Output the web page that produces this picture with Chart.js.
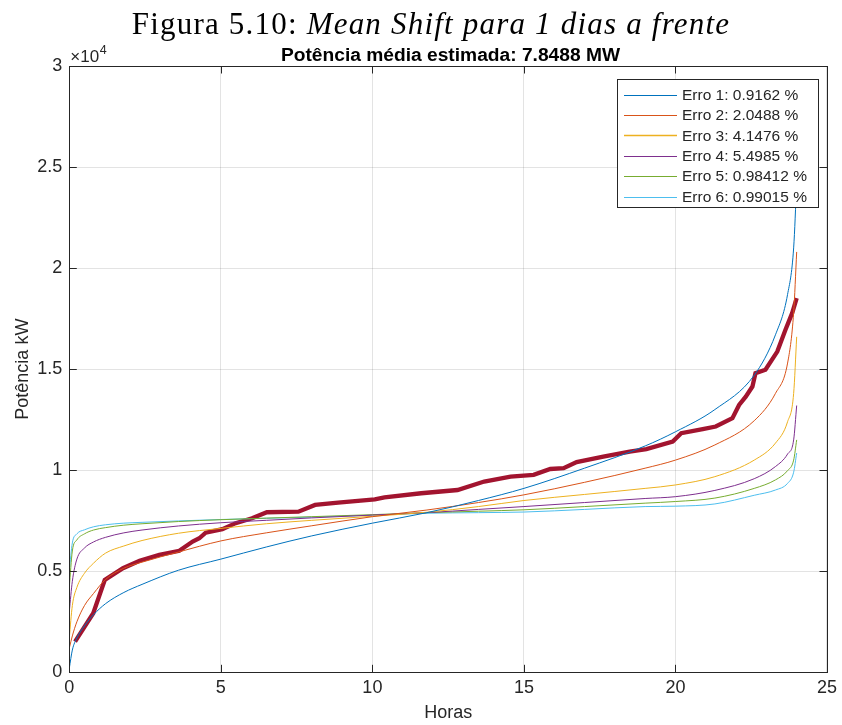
<!DOCTYPE html>
<html>
<head>
<meta charset="utf-8">
<script src="https://cdn.jsdelivr.net/npm/chart.js@4/dist/chart.umd.min.js"></script>
<style>
  html, body { margin: 0; padding: 0; background: #ffffff; }
  #wrap { position: relative; width: 842px; height: 725px; }
  #chart { position: absolute; left: 0; top: 0; }
  #caption {
    position: absolute; left: 10px; top: 6px; width: 842px;
    text-align: center; font-family: 'Liberation Serif', 'DejaVu Serif', serif;
    font-size: 31px; letter-spacing: 1.2px; color: #000; white-space: nowrap; line-height: 36px;
  }
  #axtitle {
    position: absolute; left: 69px; top: 44px; width: 763px;
    text-align: center; font-family: 'Liberation Sans', Arial, sans-serif;
    font-weight: bold; font-size: 19.2px; color: #000; line-height: 22px; white-space: nowrap;
  }
</style>
</head>
<body>
<div id="wrap">
  <canvas id="chart" width="842" height="725"></canvas>
  <div id="caption">Figura 5.10: <i>Mean Shift para 1 dias a frente</i></div>
  <div id="axtitle">Potência média estimada: 7.8488 MW</div>
</div>
<script>
// Sorted hourly power profiles (kW) for each error scenario
const hours = [0, 0.1, 0.25, 0.5, 0.8, 1.2, 1.8, 2.4, 3.6, 5, 6.5, 8, 10, 11.8, 13.5, 15, 17, 19, 20, 21.3, 22.6, 23.3, 23.7, 23.9, 24];

const erro1 = [200, 1100, 1700, 2300, 2850, 3400, 3950, 4350, 5050, 5600, 6200, 6750, 7380, 7900, 8500, 9100, 10100, 11200, 11900, 13000, 14700, 16700, 18700, 21000, 24200];
const erro2 = [1200, 1800, 2500, 3300, 3900, 4600, 5150, 5450, 5950, 6500, 6900, 7250, 7700, 8030, 8400, 8780, 9400, 10100, 10500, 11250, 12450, 13800, 15300, 17800, 20800];
const erro3 = [1700, 3300, 4200, 4900, 5400, 5900, 6250, 6520, 6880, 7120, 7350, 7520, 7720, 7920, 8200, 8500, 8800, 9100, 9270, 9680, 10500, 11340, 12400, 13800, 16600];
const erro4 = [3000, 4500, 5600, 6150, 6450, 6680, 6900, 7040, 7240, 7400, 7520, 7640, 7780, 7900, 8060, 8200, 8400, 8600, 8690, 9000, 9580, 10180, 10800, 11500, 13200];
const erro5 = [4200, 6000, 6550, 6850, 7040, 7160, 7280, 7350, 7460, 7550, 7630, 7700, 7800, 7900, 7970, 8040, 8200, 8370, 8450, 8620, 9100, 9520, 9980, 10500, 11500];
const erro6 = [5000, 6400, 6850, 7050, 7200, 7300, 7380, 7420, 7490, 7560, 7620, 7680, 7770, 7870, 7900, 7930, 8060, 8200, 8220, 8330, 8760, 9020, 9350, 9900, 10850];

// Estimated mean-shift profile
const estHours = [0.19, 0.79, 1.17, 1.77, 2.32, 2.97, 3.63, 4.07, 4.29, 4.5, 5.05, 5.49, 6.03, 6.52, 7.56, 8.11, 8.87, 10.08, 10.4, 11.61, 12.81, 13.69, 14.56, 15.32, 15.87, 16.31, 16.74, 17.62, 18.49, 19.04, 19.91, 20.19, 20.9, 21.33, 21.88, 22.1, 22.32, 22.54, 22.64, 22.97, 23.36, 23.63, 23.85, 24.0];
const estimada = [1520, 2920, 4570, 5150, 5520, 5810, 6010, 6470, 6630, 6910, 7080, 7380, 7620, 7920, 7950, 8280, 8400, 8560, 8660, 8860, 9020, 9440, 9680, 9770, 10060, 10100, 10400, 10670, 10920, 11040, 11420, 11830, 12030, 12160, 12570, 13230, 13640, 14140, 14800, 14970, 15870, 16950, 17770, 18510];

const legendLabels = ['Erro 1: 0.9162 %', 'Erro 2: 2.0488 %', 'Erro 3: 4.1476 %', 'Erro 4: 5.4985 %', 'Erro 5: 0.98412 %', 'Erro 6: 0.99015 %'];
const xTicks = [0, 5, 10, 15, 20, 25];
const yTicks = [0, 5000, 10000, 15000, 20000, 25000, 30000];

const colors = ['#0072BD', '#D95319', '#EDB120', '#7E2F8E', '#77AC30', '#4DBEEE'];
const estColor = '#A2142F';
const ink = '#262626';
const FONT = "'Liberation Sans', Arial, Helvetica, sans-serif";

const pairs = (xs, ys) => xs.map((x, i) => ({ x: x, y: ys[i] }));

const series = [erro1, erro2, erro3, erro4, erro5, erro6];
const datasets = series.map((vals, i) => ({
  label: legendLabels[i],
  data: pairs(hours, vals),
  borderColor: colors[i],
  borderWidth: 1,
  pointRadius: 0,
  cubicInterpolationMode: 'monotone',
  fill: false,
  inLegend: true
}));
datasets.push({
  label: 'Estimada',
  data: pairs(estHours, estimada),
  borderColor: estColor,
  borderWidth: 4.3,
  pointRadius: 0,
  tension: 0,
  fill: false,
  inLegend: false
});

// Axes box, inward ticks, exponent marker and boxed legend
const matlabAxes = {
  id: 'matlabAxes',
  afterDatasetsDraw(chart) {
    const { ctx, chartArea: a, scales } = chart;
    const xs = scales.x, ys = scales.y;
    ctx.save();
    ctx.strokeStyle = ink;
    ctx.lineWidth = 1;
    ctx.strokeRect(Math.round(a.left) + 0.5, Math.round(a.top) + 0.5,
                   Math.round(a.right - a.left), Math.round(a.bottom - a.top));
    const tl = 7.5;
    ctx.beginPath();
    xTicks.forEach(v => {
      const px = Math.round(xs.getPixelForValue(v)) + 0.5;
      ctx.moveTo(px, a.bottom); ctx.lineTo(px, a.bottom - tl);
      ctx.moveTo(px, a.top); ctx.lineTo(px, a.top + tl);
    });
    yTicks.forEach(v => {
      const py = Math.round(ys.getPixelForValue(v)) + 0.5;
      ctx.moveTo(a.left, py); ctx.lineTo(a.left + tl, py);
      ctx.moveTo(a.right, py); ctx.lineTo(a.right - tl, py);
    });
    ctx.stroke();

    // exponent
    ctx.fillStyle = ink;
    ctx.textBaseline = 'alphabetic';
    ctx.textAlign = 'left';
    ctx.font = '17px ' + FONT;
    ctx.fillText('\u00d710', a.left + 1, a.top - 4);
    const w = ctx.measureText('\u00d710').width;
    ctx.font = '12.5px ' + FONT;
    ctx.fillText('4', a.left + 1 + w + 0.5, a.top - 12);

    // legend
    const lx = 617.5, ly = 79.5, lw = 201, lh = 128;
    ctx.fillStyle = '#ffffff';
    ctx.fillRect(lx, ly, lw, lh);
    ctx.strokeStyle = '#262626';
    ctx.lineWidth = 1;
    ctx.strokeRect(lx, ly, lw, lh);
    ctx.font = '15.5px ' + FONT;
    ctx.textBaseline = 'middle';
    let row = 0;
    chart.data.datasets.forEach(ds => {
      if (!ds.inLegend) return;
      const y = 94.5 + row * 20.4;
      ctx.strokeStyle = ds.borderColor;
      ctx.lineWidth = ds.borderColor === '#EDB120' ? 1.5 : 1;
      ctx.beginPath();
      ctx.moveTo(624, Math.round(y) + 0.5);
      ctx.lineTo(677, Math.round(y) + 0.5);
      ctx.stroke();
      ctx.fillStyle = ink;
      ctx.fillText(ds.label, 682, y + 1);
      row++;
    });
    ctx.restore();
  }
};

new Chart(document.getElementById('chart'), {
  type: 'line',
  data: { datasets: datasets },
  options: {
    responsive: false,
    animation: false,
    events: [],
    layout: { padding: { top: 66, left: 0, right: 9.7, bottom: 0 } },
    plugins: {
      legend: { display: false },
      tooltip: { enabled: false },
      title: { display: false }
    },
    scales: {
      x: {
        type: 'linear',
        min: 0, max: 25,
        afterFit(s) { s.height = 52.7; },
        afterBuildTicks(s) { s.ticks = xTicks.map(v => ({ value: v })); },
        ticks: { color: ink, font: { family: FONT, size: 18 }, padding: 5, maxRotation: 0 },
        grid: { color: 'rgba(38,38,38,0.13)', drawTicks: false },
        border: { display: false },
        title: { display: true, text: 'Horas', color: ink, font: { family: FONT, size: 18 }, padding: { top: 0, bottom: 1.5 } }
      },
      y: {
        min: 0, max: 30000,
        afterFit(s) { s.width = 69.3; },
        afterBuildTicks(s) { s.ticks = yTicks.map(v => ({ value: v })); },
        ticks: { color: ink, font: { family: FONT, size: 18 }, padding: 7, callback: v => String(v / 10000) },
        grid: { color: 'rgba(38,38,38,0.13)', drawTicks: false },
        border: { display: false },
        title: { display: true, text: 'Potência kW', color: ink, font: { family: FONT, size: 18 }, padding: { top: 12.5, bottom: 0 } }
      }
    }
  },
  plugins: [matlabAxes]
});
</script>
</body>
</html>
